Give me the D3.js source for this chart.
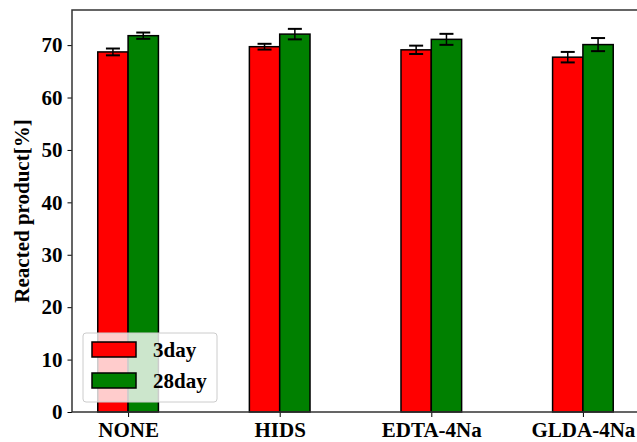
<!DOCTYPE html>
<html>
<head>
<meta charset="utf-8">
<script src="https://cdn.jsdelivr.net/npm/d3@7"></script>
<style>
  body { margin: 0; background: #fff; }
  svg { display: block; }
</style>
</head>
<body>
<div id="chart"></div>
<script>
// ---- data ----
const categories = ["NONE", "HIDS", "EDTA-4Na", "GLDA-4Na"];
const seriesNames = ["3day", "28day"];
const values3day = [68.7, 69.7, 69.1, 67.7];
const values28day = [71.8, 72.1, 71.1, 70.1];
const err3day = [0.65, 0.55, 0.8, 1.0];
const err28day = [0.6, 1.0, 1.05, 1.25];
const yTicks = [0, 10, 20, 30, 40, 50, 60, 70];
const colors = ["#ff0000", "#008000"];

const width = 637, height = 442;
const margin = { top: 10, right: -2, bottom: 30, left: 72 };
const font = "'Liberation Serif', 'Times New Roman', serif";
const fontSize = 21;

const svg = d3.select("#chart").append("svg")
  .attr("width", width)
  .attr("height", height);

// x in category units, like matplotlib: bars at i +/- 0.1, width 0.2
const x = d3.scaleLinear()
  .domain([-0.37, 3.37])
  .range([margin.left, width - margin.right]);

const y = d3.scaleLinear()
  .domain([0, 76.7])
  .range([height - margin.bottom, margin.top]);

const barW = 0.2;
const series = [
  { name: seriesNames[0], vals: values3day, errs: err3day, offset: -barW / 2, color: colors[0] },
  { name: seriesNames[1], vals: values28day, errs: err28day, offset: barW / 2, color: colors[1] }
];

// bars
series.forEach(s => {
  svg.append("g")
    .selectAll("rect")
    .data(s.vals)
    .join("rect")
    .attr("x", (d, i) => x(i + s.offset - barW / 2))
    .attr("width", x(barW) - x(0))
    .attr("y", d => y(d))
    .attr("height", d => y(0) - y(d))
    .attr("fill", s.color)
    .attr("stroke", "#000")
    .attr("stroke-width", 1.5);
});

// error bars
series.forEach(s => {
  const g = svg.append("g");
  s.vals.forEach((v, i) => {
    const cx = x(i + s.offset);
    const e = s.errs[i];
    g.append("line")
      .attr("x1", cx).attr("x2", cx)
      .attr("y1", y(v - e)).attr("y2", y(v + e))
      .attr("stroke", "#000").attr("stroke-width", 1.5);
    [v - e, v + e].forEach(yy => {
      g.append("line")
        .attr("x1", cx - 7).attr("x2", cx + 7)
        .attr("y1", y(yy)).attr("y2", y(yy))
        .attr("stroke", "#000").attr("stroke-width", 2);
    });
  });
});

// axes
const yAxis = svg.append("g")
  .attr("transform", `translate(${margin.left},0)`)
  .call(d3.axisLeft(y).tickValues(yTicks).tickSize(4.5).tickPadding(5).tickFormat(d3.format("d")));

const xAxis = svg.append("g")
  .attr("transform", `translate(0,${y(0)})`)
  .call(d3.axisBottom(x).tickValues(d3.range(categories.length)).tickSize(5).tickPadding(5)
    .tickFormat(i => categories[i]));

[yAxis, xAxis].forEach(a => {
  a.select(".domain").remove();
  a.selectAll(".tick line").attr("stroke", "#000").attr("stroke-width", 1);
  a.selectAll(".tick text")
    .attr("font-family", font)
    .attr("font-weight", "bold")
    .attr("font-size", fontSize)
    .attr("fill", "#000");
});

// spines
const x0 = margin.left, x1 = width - margin.right;
const y0 = y(0), y1 = margin.top;
svg.append("rect")
  .attr("x", x0).attr("y", y1)
  .attr("width", x1 - x0).attr("height", y0 - y1)
  .attr("fill", "none")
  .attr("stroke", "#333")
  .attr("stroke-width", 1.5);

// y label
svg.append("text")
  .attr("transform", `translate(29,${(y0 + y1) / 2}) rotate(-90)`)
  .attr("text-anchor", "middle")
  .attr("font-family", font)
  .attr("font-weight", "bold")
  .attr("font-size", fontSize)
  .text("Reacted product[%]");

// legend
const legend = svg.append("g").attr("transform", "translate(83,333)");
legend.append("rect")
  .attr("width", 134).attr("height", 69)
  .attr("rx", 3)
  .attr("fill", "#fff").attr("fill-opacity", 0.8)
  .attr("stroke", "#ccc").attr("stroke-width", 1);

series.forEach((s, i) => {
  const gy = 9 + i * 31;
  legend.append("rect")
    .attr("x", 9).attr("y", gy)
    .attr("width", 44).attr("height", 15)
    .attr("fill", s.color)
    .attr("stroke", "#000").attr("stroke-width", 1.5);
  legend.append("text")
    .attr("x", 70).attr("y", gy + 15)
    .attr("font-family", font)
    .attr("font-weight", "bold")
    .attr("font-size", fontSize)
    .text(s.name);
});
</script>
</body>
</html>
